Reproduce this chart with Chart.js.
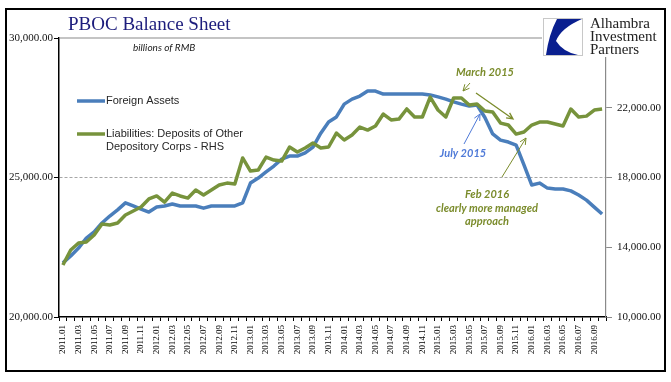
<!DOCTYPE html>
<html>
<head>
<meta charset="utf-8">
<script src="https://cdn.jsdelivr.net/npm/chart.js@4/dist/chart.umd.min.js"></script>
<style>
  html, body { margin: 0; padding: 0; background: #fff; }
  #wrap { width: 671px; height: 382px; position: relative; }
</style>
</head>
<body>
<div id="wrap"><canvas id="pbocChart" width="671" height="382"></canvas></div>
<script>
// months 2011.01 - 2016.10
const months = [];
for (let y = 2011; y <= 2016; y++) {
    for (let m = 1; m <= 12; m++) {
        if (y === 2016 && m > 10) break;
        months.push(y + '.' + (m < 10 ? '0' + m : m));
    }
}

// Foreign Assets, billions of RMB (left axis)
const foreignAssets = [
    21940, 22190, 22470, 22830, 23050, 23370, 23620, 23840, 24090, 23980, 23870, 23760,
    23940, 23980, 24050, 23980, 23980, 23980, 23900, 23980, 23980, 23980, 23980, 24090,
    24800, 24980, 25200, 25410, 25660, 25770, 25770, 25880, 26090, 26590, 26990, 27170,
    27630, 27810, 27920, 28100, 28100, 27990, 27990, 27990, 27990, 27990, 27990, 27960,
    27890, 27810, 27710, 27630, 27560, 27600, 27150, 26560, 26340, 26270, 26160, 25450,
    24730, 24800, 24620, 24590, 24590, 24520, 24370, 24190, 23940, 23690
];

// Liabilities: Deposits of Other Depository Corps (right axis)
const depositsODC = [
    12980, 13840, 14240, 14300, 14700, 15330, 15280, 15390, 15850, 16080, 16310, 16770,
    16940, 16590, 17110, 16940, 16820, 17280, 17000, 17280, 17570, 17680, 17630, 19120,
    18370, 18430, 19170, 19000, 18940, 19750, 19460, 19690, 19980, 19690, 19750, 20550,
    20150, 20440, 20890, 20720, 20950, 21640, 21300, 21350, 21930, 21470, 21470, 22610,
    21870, 21470, 22560, 22560, 22160, 22210, 21810, 21750, 21120, 21010, 20490, 20610,
    21010, 21180, 21180, 21070, 20950, 21930, 21470, 21520, 21870, 21930
];

const leftTicks = [20000, 25000, 30000];
const rightTicks = [10000, 14000, 18000, 22000, 26000];

const blue = '#4a7ebb';
const green = '#77933c';

function fmt(v) {
    return v.toLocaleString('en-US', { minimumFractionDigits: 2, maximumFractionDigits: 2 });
}

function arrow(ctx, x1, y1, x2, y2, color, w) {
    const a = Math.atan2(y2 - y1, x2 - x1);
    const h = 7;
    ctx.save();
    ctx.strokeStyle = color;
    ctx.lineWidth = w;
    ctx.beginPath();
    ctx.moveTo(x1, y1);
    ctx.lineTo(x2, y2);
    ctx.moveTo(x2 - h * Math.cos(a - 0.45), y2 - h * Math.sin(a - 0.45));
    ctx.lineTo(x2, y2);
    ctx.lineTo(x2 - h * Math.cos(a + 0.45), y2 - h * Math.sin(a + 0.45));
    ctx.stroke();
    ctx.restore();
}

// titles, legend, notes, logo, frame
const decorations = {
    id: 'decorations',
    beforeDraw(chart) {
        const ctx = chart.ctx;
        ctx.save();
        ctx.fillStyle = '#fff';
        ctx.fillRect(0, 0, chart.width, chart.height);
        ctx.restore();
    },
    afterDraw(chart) {
        const ctx = chart.ctx;
        const area = chart.chartArea;
        const yTop = chart.scales.y.getPixelForValue(30000);
        ctx.save();

        // top line up to the logo
        ctx.strokeStyle = '#8a8a8a';
        ctx.lineWidth = 1.2;
        ctx.beginPath();
        ctx.moveTo(area.left, yTop);
        ctx.lineTo(542, yTop);
        ctx.stroke();

        // title
        ctx.fillStyle = '#1c1c7c';
        ctx.font = '19px "Liberation Serif"';
        ctx.textBaseline = 'middle';
        ctx.textAlign = 'left';
        ctx.fillText('PBOC Balance Sheet', 68, 25);

        ctx.fillStyle = '#222';
        ctx.font = 'italic 10px Lato';
        ctx.fillText('billions of RMB', 133, 48);

        // legend
        ctx.lineWidth = 3.5;
        ctx.strokeStyle = blue;
        ctx.beginPath(); ctx.moveTo(77, 101); ctx.lineTo(105, 101); ctx.stroke();
        ctx.strokeStyle = green;
        ctx.beginPath(); ctx.moveTo(77, 134); ctx.lineTo(105, 134); ctx.stroke();
        ctx.fillStyle = '#262626';
        ctx.font = '11px "Liberation Sans"';
        ctx.fillText('Foreign Assets', 106, 101);
        ctx.fillText('Liabilities: Deposits of Other', 106, 134);
        ctx.fillText('Depository Corps - RHS', 106, 147);

        // notes
        const olive = '#7b8c2c';
        ctx.font = 'italic bold 11px Lato';
        ctx.textAlign = 'center';
        ctx.fillStyle = olive;
        ctx.fillText('March 2015', 485, 72);
        ctx.fillText('Feb 2016', 487, 194);
        ctx.fillText('clearly more managed', 487, 208);
        ctx.fillText('approach', 487, 221);
        ctx.fillStyle = '#4f7ad8';
        ctx.fillText('July 2015', 463, 153);

        arrow(ctx, 470, 83, 463, 91, olive, 1);
        arrow(ctx, 476, 93, 513, 119, olive, 1.3);
        arrow(ctx, 464, 144, 480, 114, '#4f7ad8', 1);
        arrow(ctx, 502, 177, 526, 138, olive, 1);

        // logo
        ctx.fillStyle = '#fff';
        ctx.fillRect(586, 12, 76, 45);
        ctx.fillRect(543, 12, 40, 43);
        ctx.strokeStyle = '#c8c8c8';
        ctx.lineWidth = 1;
        ctx.strokeRect(543.5, 18.5, 39, 37);
        ctx.fillStyle = '#0a1f8f';
        ctx.beginPath();
        ctx.moveTo(557, 19);
        ctx.lineTo(582, 19);
        ctx.quadraticCurveTo(561, 28, 556, 41);
        ctx.quadraticCurveTo(563, 52, 578, 55);
        ctx.lineTo(546, 55);
        ctx.quadraticCurveTo(549, 34, 557, 19);
        ctx.fill();
        ctx.fillStyle = '#222';
        ctx.textAlign = 'left';
        ctx.textBaseline = 'alphabetic';
        ctx.font = '15px "Liberation Serif"';
        ctx.fillText('Alhambra', 590, 28);
        ctx.fillText('Investment', 590, 41);
        ctx.fillText('Partners', 590, 54);

        // frame
        ctx.strokeStyle = '#000';
        ctx.lineWidth = 2;
        ctx.strokeRect(6, 9, 659, 362);
        ctx.restore();
    }
};

const ctx = document.getElementById('pbocChart').getContext('2d');

const pbocChart = new Chart(ctx, {
    type: 'line',
    data: {
        labels: months,
        datasets: [
            {
                label: 'Liabilities: Deposits of Other Depository Corps - RHS',
                data: depositsODC,
                yAxisID: 'y2',
                borderColor: green,
                borderWidth: 3.5,
                pointRadius: 0,
                tension: 0,
                borderJoinStyle: 'round',
                order: 0
            },
            {
                label: 'Foreign Assets',
                data: foreignAssets,
                yAxisID: 'y',
                borderColor: blue,
                borderWidth: 3.5,
                pointRadius: 0,
                tension: 0,
                borderJoinStyle: 'round',
                order: 1
            }
        ]
    },
    options: {
        responsive: false,
        animation: false,
        layout: { padding: { top: 38, left: 0, right: 0, bottom: 0 } },
        plugins: {
            legend: { display: false },
            tooltip: { enabled: false }
        },
        scales: {
            x: {
                offset: true,
                afterFit: s => { s.height = 65; },
                grid: {
                    drawOnChartArea: false,
                    offset: true,
                    tickColor: '#000',
                    tickLength: 4
                },
                border: { color: '#000', width: 1.5 },
                ticks: {
                    autoSkip: false,
                    maxRotation: 90,
                    minRotation: 90,
                    padding: 4,
                    color: '#000',
                    font: { family: 'Liberation Serif', size: 9 },
                    callback: function (value, index) {
                        return index % 2 === 0 ? this.getLabelForValue(value) : '';
                    }
                }
            },
            y: {
                position: 'left',
                min: leftTicks[0],
                max: leftTicks[leftTicks.length - 1],
                afterFit: s => { s.width = 59; },
                afterBuildTicks: s => { s.ticks = leftTicks.map(v => ({ value: v })); },
                grid: {
                    color: c => c.tick && c.tick.value === 25000 ? '#a6a6a6' : 'rgba(0,0,0,0)',
                    lineWidth: 1,
                    tickColor: '#000',
                    tickLength: 5
                },
                border: { color: '#000', width: 1.5, dash: [3, 2] },
                ticks: {
                    padding: 1,
                    color: '#111',
                    font: { family: 'Liberation Serif', size: 11 },
                    callback: v => fmt(v)
                }
            },
            y2: {
                position: 'right',
                min: rightTicks[0],
                max: rightTicks[rightTicks.length - 1],
                afterFit: s => { s.width = 65; },
                afterBuildTicks: s => { s.ticks = rightTicks.map(v => ({ value: v })); },
                grid: {
                    drawOnChartArea: false,
                    tickColor: '#8a8a8a',
                    tickLength: 6
                },
                border: { color: '#8a8a8a', width: 1.2 },
                ticks: {
                    padding: 5,
                    color: '#111',
                    font: { family: 'Liberation Serif', size: 11 },
                    callback: v => v === 26000 ? '' : fmt(v)
                }
            }
        }
    },
    plugins: [decorations]
});
</script>
</body>
</html>
